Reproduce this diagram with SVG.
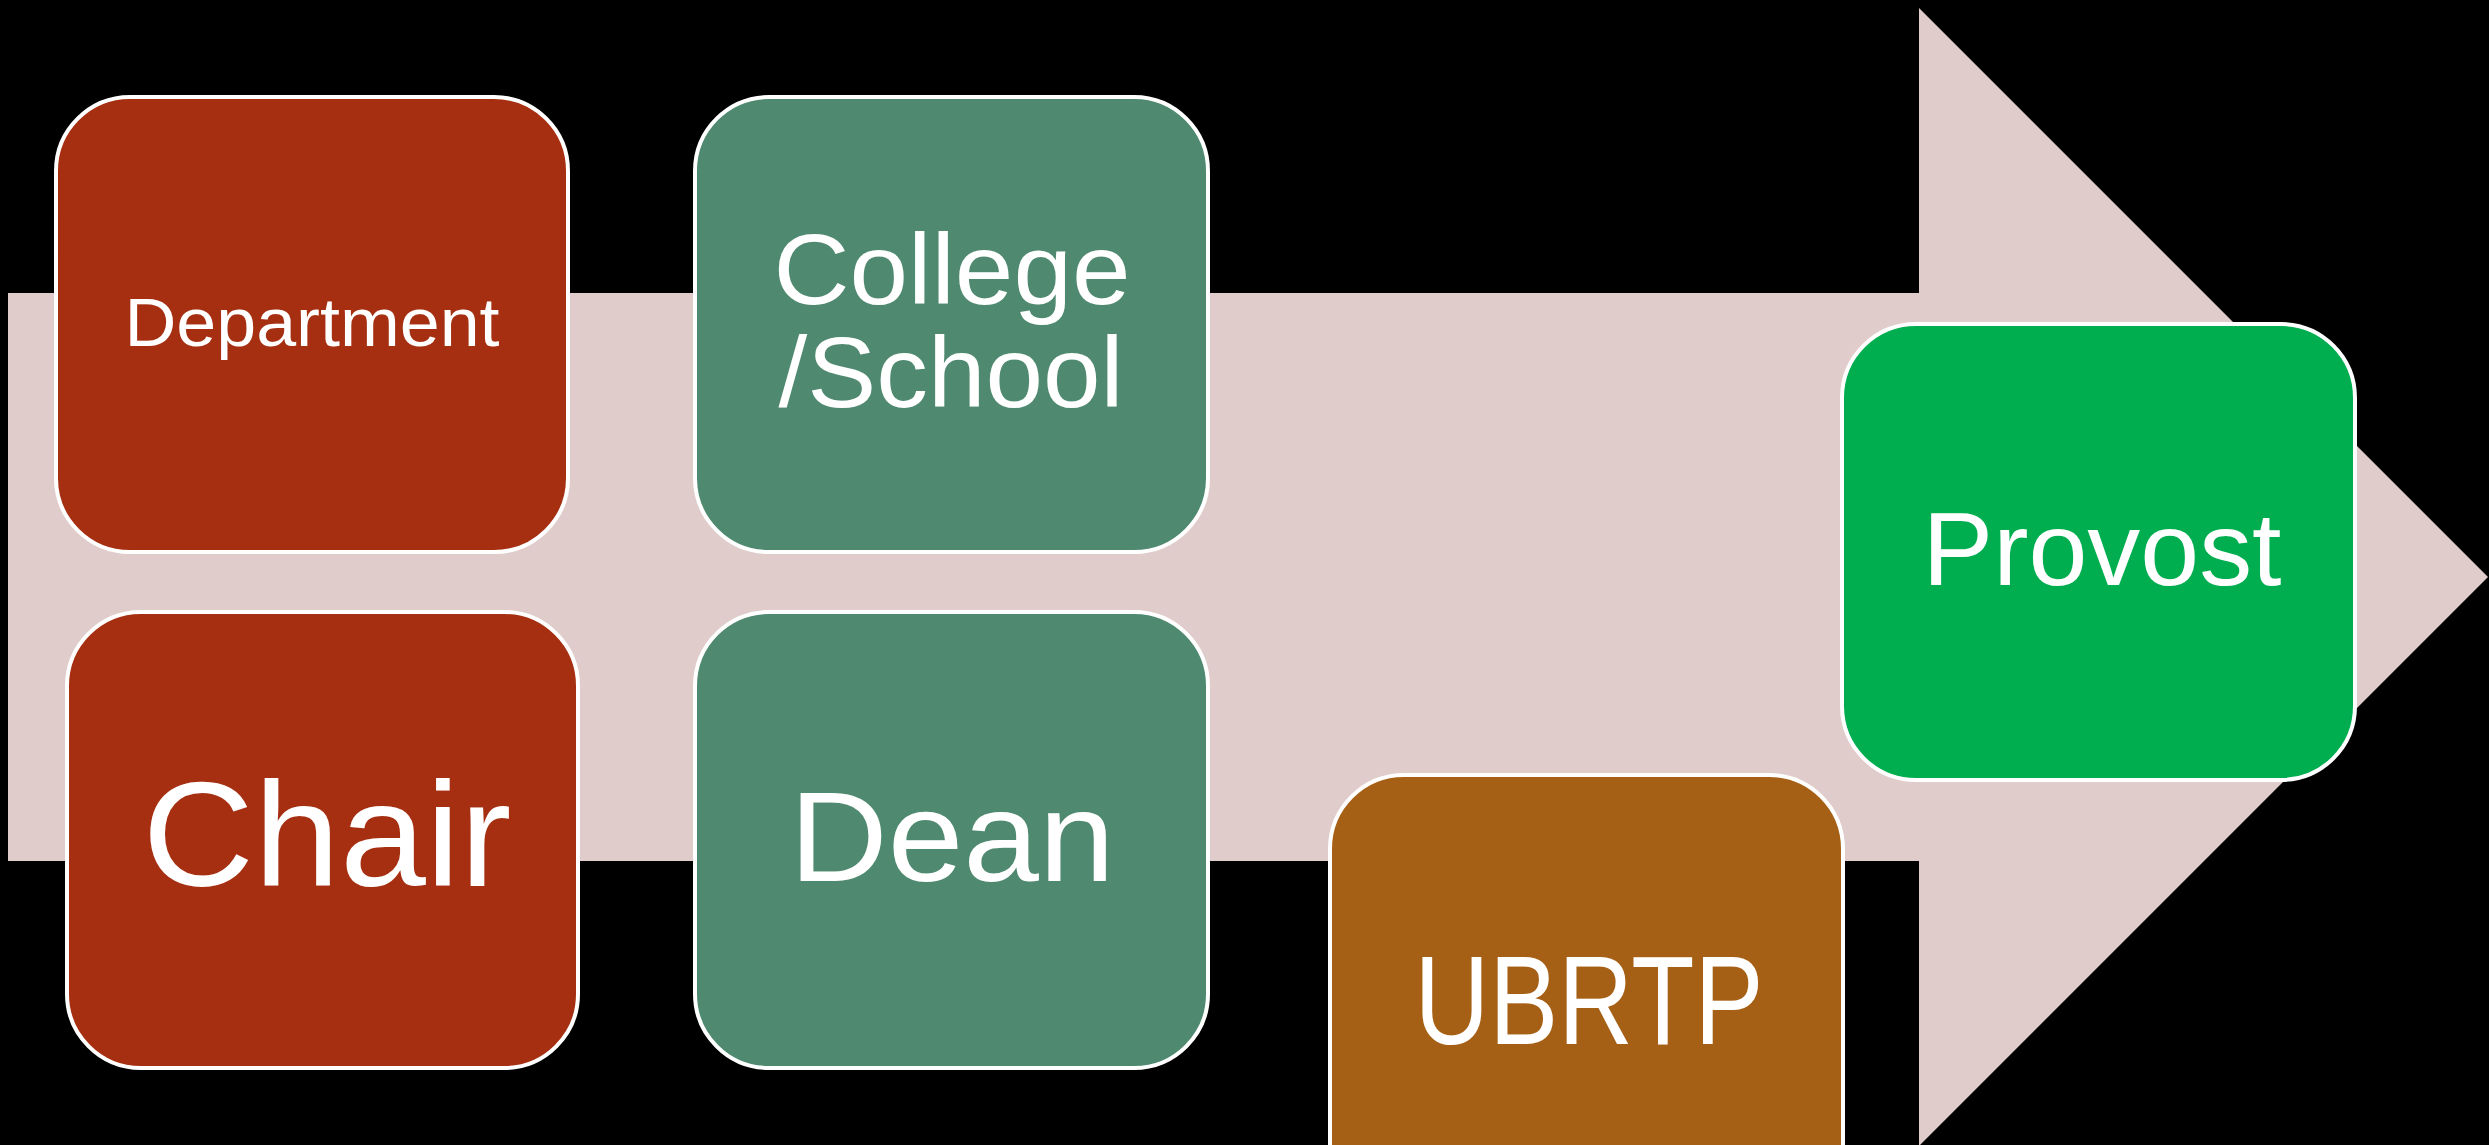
<svg xmlns="http://www.w3.org/2000/svg" width="2489" height="1145" viewBox="0 0 2489 1145">
<style>
.box{stroke:#FFFFFF;stroke-width:4}
.red{fill:#A52F10}
.teal{fill:#4E8970}
.green{fill:#00AE50}
.brown{fill:#A66015}
.t{fill:#FFFFFF;font-family:"Liberation Sans","DejaVu Sans",sans-serif;text-anchor:middle}
</style>
<rect x="0" y="0" width="2489" height="1145" fill="#000000"/>
<g id="connectors">
<polygon points="8,293 1919,293 1919,8 2488,577 1919,1146 1919,861 8,861" fill="#E0CDCB"/>
</g>
<g id="department">
<rect class="box red" x="56" y="97" width="512" height="455" rx="74" ry="74"/>
<text class="t" x="312" y="346" font-size="68" textLength="375" lengthAdjust="spacingAndGlyphs">Department</text>
</g>
<g id="college">
<rect class="box teal" x="695" y="97" width="513" height="455" rx="74" ry="74"/>
<text class="t" x="952" y="304" font-size="100" textLength="357" lengthAdjust="spacingAndGlyphs">College</text>
<text class="t" x="951" y="407" font-size="100" textLength="345" lengthAdjust="spacingAndGlyphs">/School</text>
</g>
<g id="chair">
<rect class="box red" x="67" y="612" width="511" height="456" rx="74" ry="74"/>
<text class="t" x="327" y="886" font-size="148" textLength="369" lengthAdjust="spacingAndGlyphs">Chair</text>
</g>
<g id="dean">
<rect class="box teal" x="695" y="612" width="513" height="456" rx="74" ry="74"/>
<text class="t" x="952" y="881" font-size="128" textLength="325" lengthAdjust="spacingAndGlyphs">Dean</text>
</g>
<g id="ubrtp">
<rect class="box brown" x="1330" y="775" width="513" height="456" rx="74" ry="74"/>
<text class="t" x="1589" y="1044" font-size="126" textLength="349" lengthAdjust="spacingAndGlyphs">UBRTP</text>
</g>
<g id="provost">
<rect class="box green" x="1842" y="324" width="513" height="456" rx="74" ry="74"/>
<text class="t" x="2102" y="585" font-size="103" textLength="359" lengthAdjust="spacingAndGlyphs">Provost</text>
</g>
</svg>
